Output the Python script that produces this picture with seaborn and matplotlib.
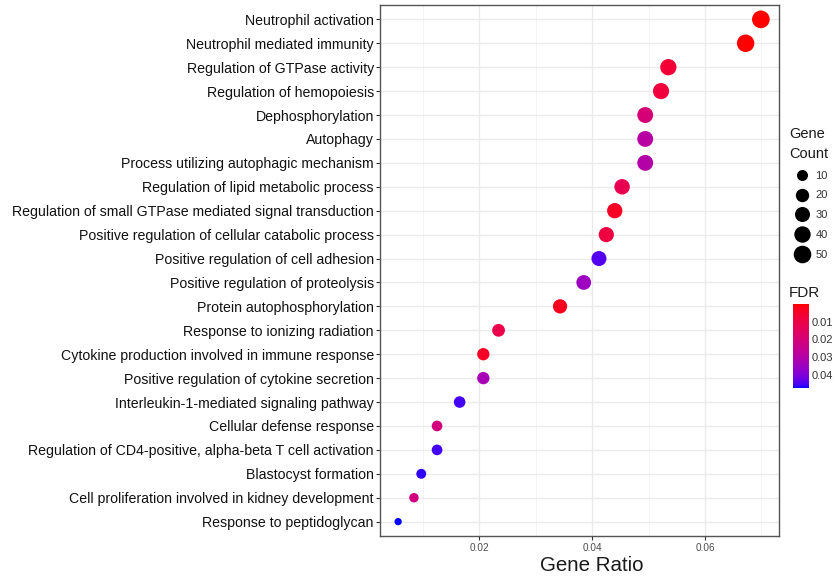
import numpy as np
import pandas as pd
import matplotlib
matplotlib.use("Agg")
import matplotlib.pyplot as plt
import seaborn as sns
from matplotlib.colors import ListedColormap, Normalize
from matplotlib.lines import Line2D
from matplotlib.cm import ScalarMappable

# ---------------- data ----------------
terms = [
    "Neutrophil activation",
    "Neutrophil mediated immunity",
    "Regulation of GTPase activity",
    "Regulation of hemopoiesis",
    "Dephosphorylation",
    "Autophagy",
    "Process utilizing autophagic mechanism",
    "Regulation of lipid metabolic process",
    "Regulation of small GTPase mediated signal transduction",
    "Positive regulation of cellular catabolic process",
    "Positive regulation of cell adhesion",
    "Positive regulation of proteolysis",
    "Protein autophosphorylation",
    "Response to ionizing radiation",
    "Cytokine production involved in immune response",
    "Positive regulation of cytokine secretion",
    "Interleukin-1-mediated signaling pathway",
    "Cellular defense response",
    "Regulation of CD4-positive, alpha-beta T cell activation",
    "Blastocyst formation",
    "Cell proliferation involved in kidney development",
    "Response to peptidoglycan",
]
gene_ratio = [0.0699, 0.0672, 0.0535, 0.0522, 0.0494, 0.0494, 0.0494, 0.0453,
              0.0440, 0.0425, 0.0412, 0.0385, 0.0343, 0.0234, 0.0207, 0.0207,
              0.0165, 0.0125, 0.0125, 0.0097, 0.0084, 0.0056]
gene_count = [51, 49, 39, 38, 36, 36, 36, 33, 32, 31, 30, 28, 25, 17, 15, 15,
              12, 9, 9, 7, 6, 4]
fdr = [0.0001, 0.0002, 0.007, 0.008, 0.020, 0.029, 0.030, 0.012, 0.004, 0.009,
       0.0445, 0.035, 0.003, 0.011, 0.004, 0.033, 0.0455, 0.021, 0.0455, 0.0465,
       0.021, 0.0475]
size_breaks = [10, 20, 30, 40, 50]
fdr_breaks = [0.01, 0.02, 0.03, 0.04]
fdr_limits = (0.0, 0.0475)

df = pd.DataFrame({"term": terms, "ratio": gene_ratio, "count": gene_count, "fdr": fdr})

# ---------------- colour map: red -> blue interpolated in Lab (like ggplot) ----------------
def _srgb_to_lab(rgb):
    rgb = np.asarray(rgb, float)
    lin = np.where(rgb <= 0.04045, rgb / 12.92, ((rgb + 0.055) / 1.055) ** 2.4)
    M = np.array([[0.4124, 0.3576, 0.1805],
                  [0.2126, 0.7152, 0.0722],
                  [0.0193, 0.1192, 0.9505]])
    xyz = M @ lin
    wp = np.array([0.95047, 1.0, 1.08883])
    t = xyz / wp
    f = np.where(t > (6 / 29) ** 3, np.cbrt(t), t / (3 * (6 / 29) ** 2) + 4 / 29)
    return np.array([116 * f[1] - 16, 500 * (f[0] - f[1]), 200 * (f[1] - f[2])])

def _lab_to_srgb(lab):
    L, a, b = lab
    fy = (L + 16) / 116
    fx = fy + a / 500
    fz = fy - b / 200
    f = np.array([fx, fy, fz])
    t = np.where(f > 6 / 29, f ** 3, 3 * (6 / 29) ** 2 * (f - 4 / 29))
    wp = np.array([0.95047, 1.0, 1.08883])
    xyz = t * wp
    Minv = np.array([[3.2406, -1.5372, -0.4986],
                     [-0.9689, 1.8758, 0.0415],
                     [0.0557, -0.2040, 1.0570]])
    lin = np.clip(Minv @ xyz, 0, 1)
    rgb = np.where(lin <= 0.0031308, 12.92 * lin, 1.055 * lin ** (1 / 2.4) - 0.055)
    return np.clip(rgb, 0, 1)

lab_lo = _srgb_to_lab([1, 0, 0])
lab_hi = _srgb_to_lab([0, 0, 1])
cmap = ListedColormap([_lab_to_srgb(lab_lo + (lab_hi - lab_lo) * t)
                       for t in np.linspace(0, 1, 256)])
norm = Normalize(*fdr_limits)

# size mapping (ggplot area palette: diameter ~ sqrt of rescaled value)
cmin, cmax = min(gene_count), max(gene_count)
def diam_pt(c):
    return (7.3 + 10.4 * np.sqrt(max(c - cmin, 0) / (cmax - cmin))) * 0.72
size_map = {c: diam_pt(c) ** 2 for c in sorted(set(gene_count))}

# ---------------- figure ----------------
sns.set_theme(style="white")
plt.rcParams["font.family"] = ["Liberation Sans", "DejaVu Sans"]

fig = plt.figure(figsize=(8.38, 5.76), dpi=100)
ax = fig.add_axes([380 / 838, 1 - 536 / 576, (779 - 380) / 838, (536 - 5) / 576])

sns.scatterplot(data=df, x="ratio", y="term", hue="fdr", palette=cmap, hue_norm=norm,
                size="count", sizes=size_map, linewidth=0, legend=False, ax=ax,
                zorder=3)

xr = max(gene_ratio) - min(gene_ratio)
ax.set_xlim(min(gene_ratio) - 0.05 * xr, max(gene_ratio) + 0.05 * xr)
ax.set_ylim(len(terms) - 0.4, -0.6)
ax.set_xticks([0.02, 0.04, 0.06])
ax.set_xticklabels(["0.02", "0.04", "0.06"])
ax.set_xticks([0.01, 0.03, 0.05, 0.07], minor=True)
ax.set_yticks(range(len(terms)))
ax.set_yticklabels(terms)

ax.grid(True, which="major", color="#EBEBEB", linewidth=1.0, zorder=0)
ax.grid(True, which="minor", axis="x", color="#F2F2F2", linewidth=0.6, zorder=0)
ax.set_axisbelow(True)
for s in ax.spines.values():
    s.set_color("#555555")
    s.set_linewidth(1.0)

ax.tick_params(axis="y", which="major", length=3, width=0.8, color="#333333",
               labelsize=10.2, labelcolor="#111111", pad=1.5, left=True)
ax.tick_params(axis="x", which="major", length=3, width=0.8, color="#333333",
               labelsize=7.2, labelcolor="#4D4D4D", pad=2, bottom=True)
ax.tick_params(axis="x", which="minor", length=0)
ax.set_xlabel("Gene Ratio", fontsize=14.8, color="#1a1a1a")
ax.xaxis.set_label_coords(0.53, -(571 - 536) / 531)
ax.xaxis.label.set_va("baseline")
ax.set_ylabel("")

# size legend
handles = [Line2D([], [], linestyle="none", marker="o", markersize=diam_pt(c),
                  markerfacecolor="black", markeredgewidth=0) for c in size_breaks]
leg = fig.legend(handles, [str(c) for c in size_breaks], title="Gene\nCount",
                 loc="upper left", bbox_to_anchor=(785 / 838, 1 - 123 / 576),
                 frameon=False, fontsize=8, title_fontsize=10.5,
                 handletextpad=0.15, labelspacing=0.88, borderaxespad=0,
                 handlelength=2.2, alignment="left")
for t in leg.get_texts():
    t.set_color("#333333")
leg.get_title().set_color("#1a1a1a")
leg.get_title().set_linespacing(1.5)

# colour bar
cax = fig.add_axes([793 / 838, 1 - 388 / 576, 16 / 838, 84 / 576])
cb = fig.colorbar(ScalarMappable(norm=norm, cmap=cmap), cax=cax)
cb.outline.set_visible(False)
cb.set_ticks(fdr_breaks)
cb.set_ticklabels([f"{v:.2f}" for v in fdr_breaks])
cax.invert_yaxis()
cax.yaxis.set_ticks_position("both")
cax.tick_params(axis="y", direction="in", length=3, width=0.8, color="white",
                labelsize=8, labelcolor="#333333", pad=2, left=True, right=True,
                labelleft=False, labelright=True)
fig.text(789 / 838, 1 - 293 / 576, "FDR", fontsize=11, color="#1a1a1a",
         ha="left", va="center")

fig.savefig("out.png", dpi=100)
